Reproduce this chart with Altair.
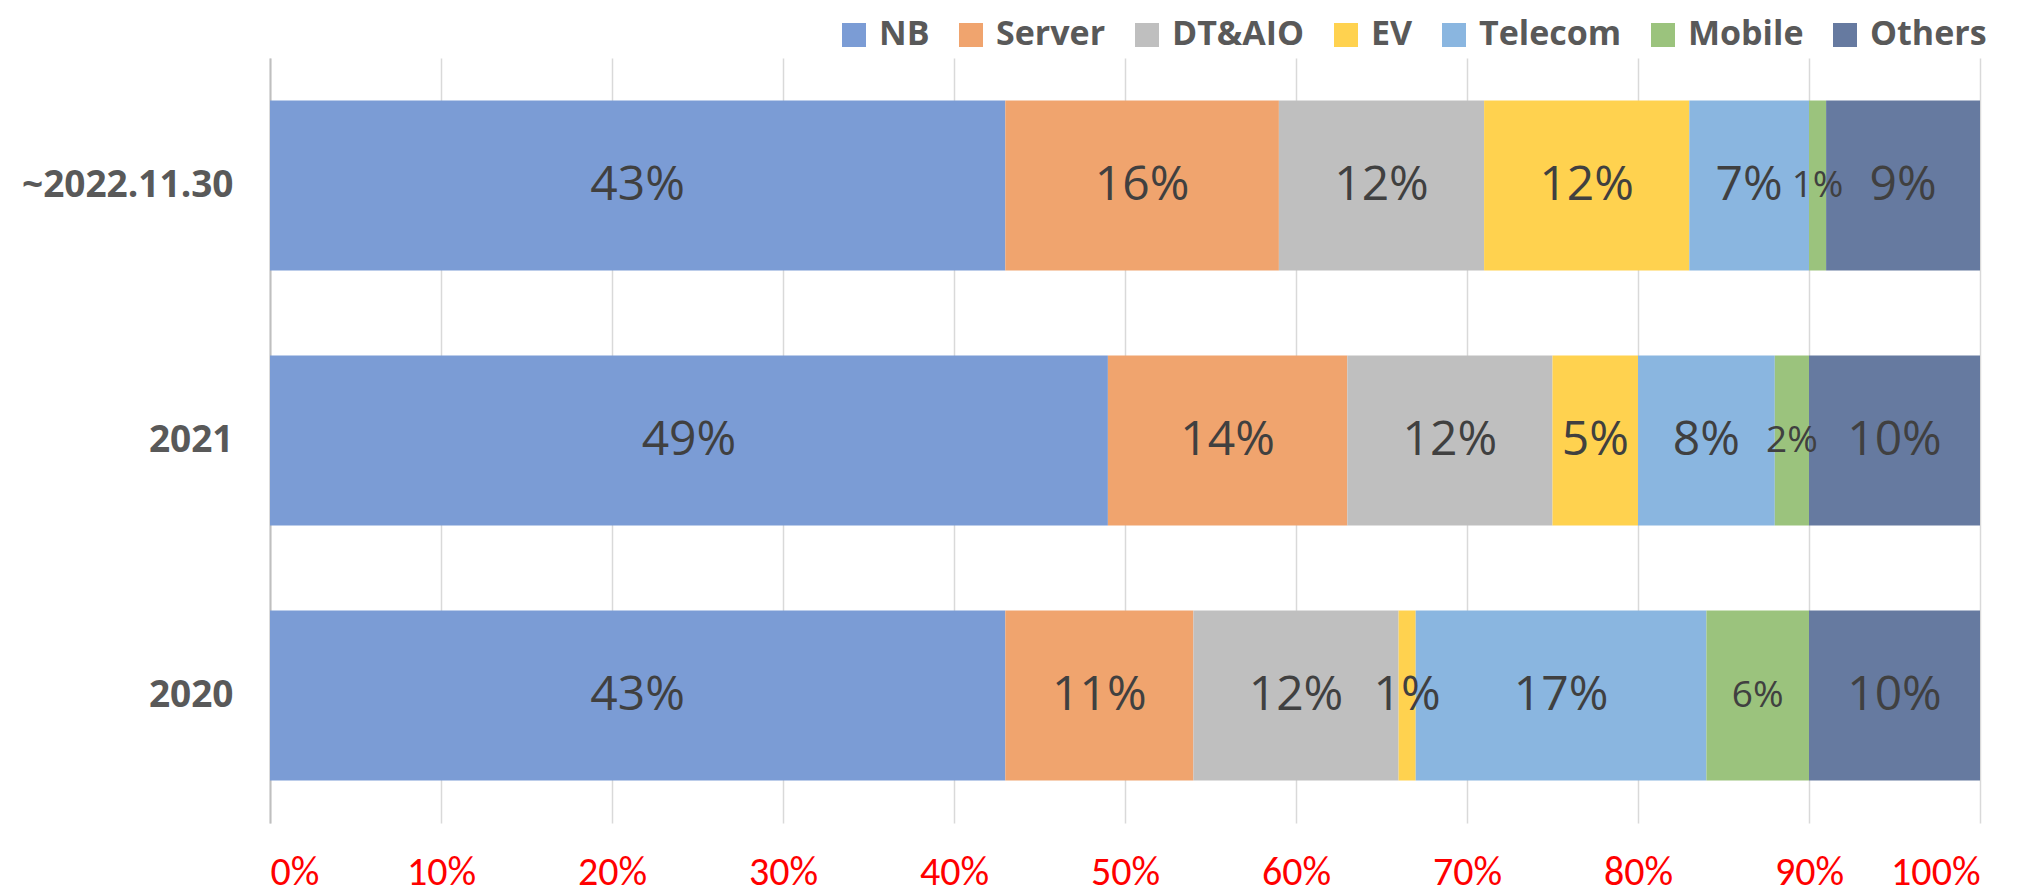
import altair as alt
import pandas as pd

periods = ["~2022.11.30", "2021", "2020"]
series = ["NB", "Server", "DT&AIO", "EV", "Telecom", "Mobile", "Others"]
colors = ["#7B9CD5", "#F0A46E", "#BFBFBF", "#FFD24F", "#8AB6E0", "#9BC37D", "#667AA0"]
v2022 = [43, 16, 12, 12, 7, 1, 9]
v2021 = [49, 14, 12, 5, 8, 2, 10]
v2020 = [43, 11, 12, 1, 17, 6, 10]
x_ticks = [0, 10, 20, 30, 40, 50, 60, 70, 80, 90, 100]

rows = []
for p, vals in zip(periods, [v2022, v2021, v2020]):
    for i, (s, v) in enumerate(zip(series, vals)):
        rows.append({"Period": p, "Series": s, "Value": v, "Order": i})
df = pd.DataFrame(rows)

base = alt.Chart(df).transform_stack(
    stack="Value", groupby=["Period"], sort=[alt.SortField("Order", order="ascending")], as_=["x0", "x1"]
).transform_calculate(
    mid="(datum.x0 + datum.x1) / 2", label="datum.Value + '%'"
)

y_enc = alt.Y(
    "Period:N", sort=periods,
    scale=alt.Scale(paddingInner=1/3, paddingOuter=1/6),
    axis=alt.Axis(title=None, labelFont="Open Sans", labelFontWeight="bold", labelFontSize=37,
                  labelColor="#595959", labelPadding=37, labelLimit=400, ticks=False, domain=True,
                  domainColor="#BFBFBF", domainWidth=2, grid=False),
)

bars = base.mark_bar().encode(
    x=alt.X("x0:Q", scale=alt.Scale(domain=[0, 100], nice=False),
            axis=alt.Axis(title=None, values=x_ticks, labelExpr="datum.value + '%'",
                          labelColor="#FF0000", labelFont="Carlito, Liberation Sans Narrow, Liberation Sans",
                          labelFontSize=40, labelPadding=29, ticks=False, domain=False,
                          grid=True, gridColor="#D9D9D9", gridWidth=1.5)),
    x2="x1:Q",
    y=y_enc,
    color=alt.Color("Series:N", scale=alt.Scale(domain=series, range=colors),
                    legend=alt.Legend(title=None, orient="none", direction="horizontal",
                                      legendX=567, legendY=-40,
                                      symbolType="square",
                                      symbolSize=576, symbolStrokeWidth=0,
                                      labelFont="Open Sans", labelFontWeight="bold",
                                      labelFontSize=34, labelColor="#595959", labelLimit=300,
                                      labelOffset=8, columnPadding=24)),
)

texts = base.mark_text(font="Open Sans", color="#404040", baseline="middle", align="center").encode(
    x=alt.X("mid:Q"),
    y=alt.Y("Period:N", sort=periods),
    text="label:N",
    size=alt.condition(alt.datum.Series == "Mobile", alt.value(37), alt.value(48)),
)

chart = alt.layer(bars, texts).properties(
    width=1710, height=765,
    autosize=alt.AutoSizeParams(type="none"),
    padding={"left": 262, "top": 50, "right": 43, "bottom": 73},
    background="white",
).configure_view(stroke=None)

chart.save("out.html", embed_options={"renderer": "svg", "actions": False})
